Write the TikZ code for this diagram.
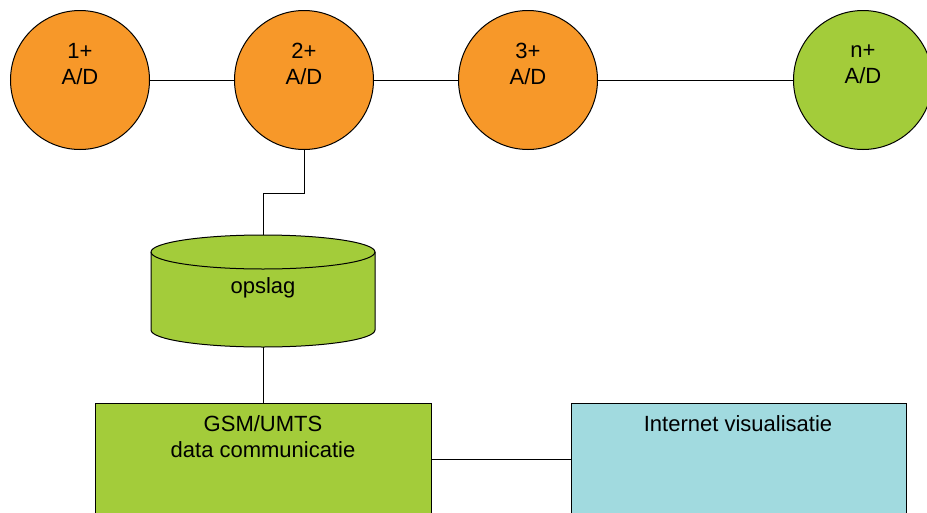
\documentclass[tikz,border=0pt]{standalone}
\usepackage{fontspec}
\setmainfont{Liberation Sans}
\definecolor{adorange}{RGB}{247,152,41}
\definecolor{adgreen}{RGB}{163,204,58}
\definecolor{adcyan}{RGB}{161,218,223}
\begin{document}
\begin{tikzpicture}[x=1pt,y=-1pt,line width=1pt,
  circ/.style={circle,draw=black,minimum size=139pt,inner sep=0pt},
  lbl/.style={align=center,font=\fontsize{22}{26}\selectfont,inner sep=0pt},
  wire/.style={draw=black,line width=1pt},
  boxst/.style={draw=black,line width=1pt}]
\clip (0,0) rectangle (927,512);
\fill[white] (0,0) rectangle (927,512);
% circles
\node[circ,fill=adorange] (c1) at (80,80) {};
\node[circ,fill=adorange] (c2) at (304,80) {};
\node[circ,fill=adorange] (c3) at (528,80) {};
\node[circ,fill=adgreen] (cn) at (863,80) {};
\node[lbl] at (80,64) {1+\\A/D};
\node[lbl] at (304,64) {2+\\A/D};
\node[lbl] at (528,64) {3+\\A/D};
\node[lbl] at (863,64) {n+\\A/D};
\draw[wire] (c1) -- (c2);
\draw[wire] (c2) -- (c3);
\draw[wire] (c3) -- (cn);
% cylinder
\coordinate (cyltop) at (263,235);
\coordinate (cylbot) at (263,347);
\filldraw[fill=adgreen,draw=black,line width=1pt]
  (151,252) -- (151,330) arc[start angle=180,end angle=360,x radius=112,y radius=-17] -- (375,252)
  arc[start angle=0,end angle=180,x radius=112,y radius=-17] -- cycle;
\draw[line width=1pt] (151,252) arc[start angle=180,end angle=360,x radius=112,y radius=-17];
\node[lbl] (opslag) at (263,288) {opslag};
\coordinate (bend1) at (304,193);
\coordinate (bend2) at (263,193);
\draw[wire] (c2.south) -- (bend1) -- (bend2) -- (cyltop);
% boxes
\filldraw[boxst,fill=adgreen] (95,403) rectangle (431,530);
\filldraw[boxst,fill=adcyan] (571,403) rectangle (906,530);
\coordinate (gsmtop) at (263,403);
\coordinate (gsmr) at (431,459);
\coordinate (intl) at (571,459);
\node[lbl] (gsm) at (263,437) {GSM/UMTS\\data communicatie};
\node[lbl] (inet) at (738,424) {Internet visualisatie};
\draw[wire] (cylbot) -- (gsmtop);
\draw[wire] (gsmr) -- (intl);
\end{tikzpicture}
\end{document}
